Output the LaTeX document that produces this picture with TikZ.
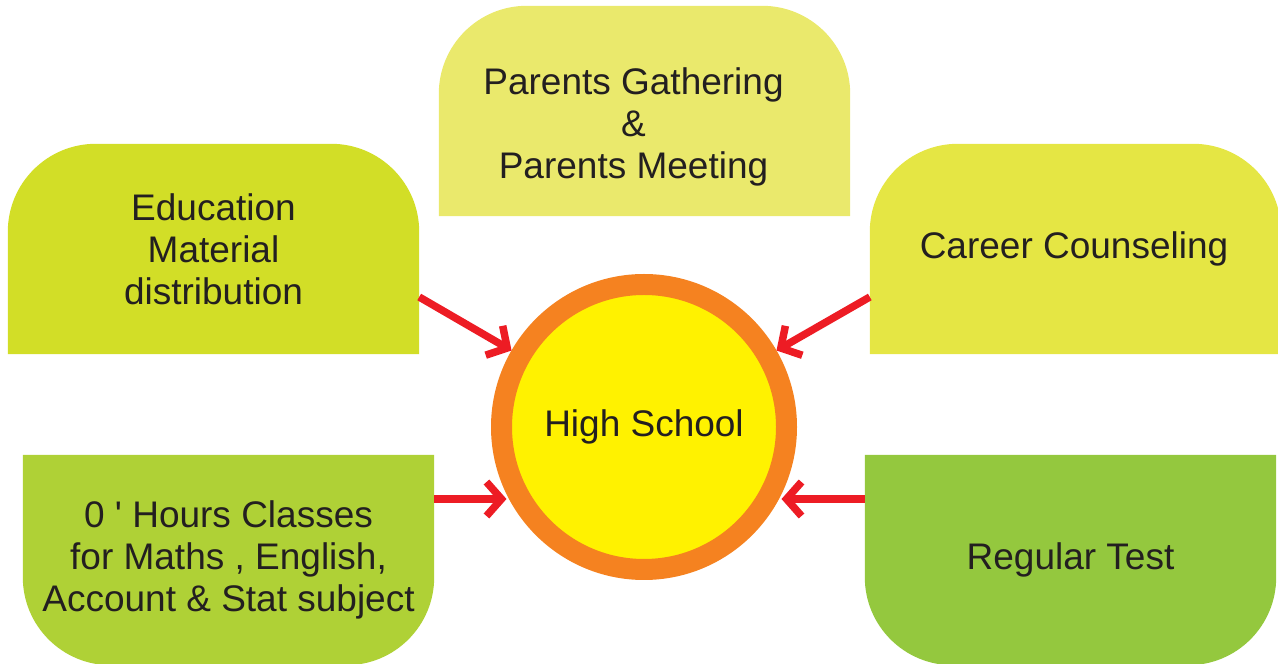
\documentclass[tikz,border=0pt]{standalone}
\usepackage{fontspec}
\setmainfont{Liberation Sans}
\usetikzlibrary{arrows.meta, backgrounds}

\definecolor{parentsyellow}{HTML}{EAE96C}
\definecolor{edulime}{HTML}{D2DE27}
\definecolor{careeryellow}{HTML}{E5E644}
\definecolor{hoursgreen}{HTML}{AFD136}
\definecolor{testgreen}{HTML}{94C83E}
\definecolor{ringorange}{HTML}{F58220}
\definecolor{coreyellow}{HTML}{FFF200}
\definecolor{linkred}{HTML}{ED1C24}
\definecolor{textgrey}{HTML}{231F20}

\begin{document}
\begin{tikzpicture}[x=1pt, y=1pt,
        every node/.style={align=center, text=textgrey, font=\fontsize{37}{42}\selectfont},
        box/.style={minimum width=411pt, minimum height=210pt, inner sep=0pt},
        link/.style={draw=linkred, line width=7.5pt, -{Straight Barb[length=15pt, width=34pt]}}
    ]
        \useasboundingbox (0,0) rectangle (1278,664);

        % centre
        \node[circle, draw=ringorange, fill=coreyellow, line width=21pt,
            minimum size=285pt, inner sep=0pt] (school) at (644,237) {High School};

        % boxes
        \node[box] (parents) at (644.5,553) {};
        \node (parentstext) at ([xshift=-11pt, yshift=-16pt]parents.center)
            {Parents Gathering\\\&\\Parents Meeting};
        \node[box] (edu) at (213.5,415) {Education\\Material\\distribution};
        \node[box, minimum width=408pt] (career) at (1074,415) {Career Counseling};
        \node[box] (hours) at (228.5,104) {0 \textquotesingle\ Hours Classes\\for Maths , English,\\Account \& Stat subject};
        \node[box] (test) at (1070.5,104) {Regular Test};

        \begin{scope}[on background layer, rounded corners=88pt]
            \fill[parentsyellow] (parents.south west) -- (parents.north west) -- (parents.north east) -- (parents.south east);
            \fill[edulime] (edu.south west) -- (edu.north west) -- (edu.north east) -- (edu.south east);
            \fill[careeryellow] (career.south west) -- (career.north west) -- ([xshift=3pt]career.north east) -- ([xshift=3pt]career.south east);
            \fill[hoursgreen] (hours.north west) -- (hours.south west) -- (hours.south east) -- (hours.north east);
            \fill[testgreen] (test.north west) -- (test.south west) -- (test.south east) -- (test.north east);
        \end{scope}

        % arrows
        \draw[link] ([yshift=-48pt]edu.east) -- (school.150);
        \draw[link] ([yshift=-48pt]career.west) -- (school.30);
        \draw[link] ([yshift=61pt]hours.east) coordinate (hoursout) -- (hoursout -| school.206);
        \draw[link] ([yshift=61pt]test.west) coordinate (testout) -- (testout -| school.334);
\end{tikzpicture}
\end{document}
